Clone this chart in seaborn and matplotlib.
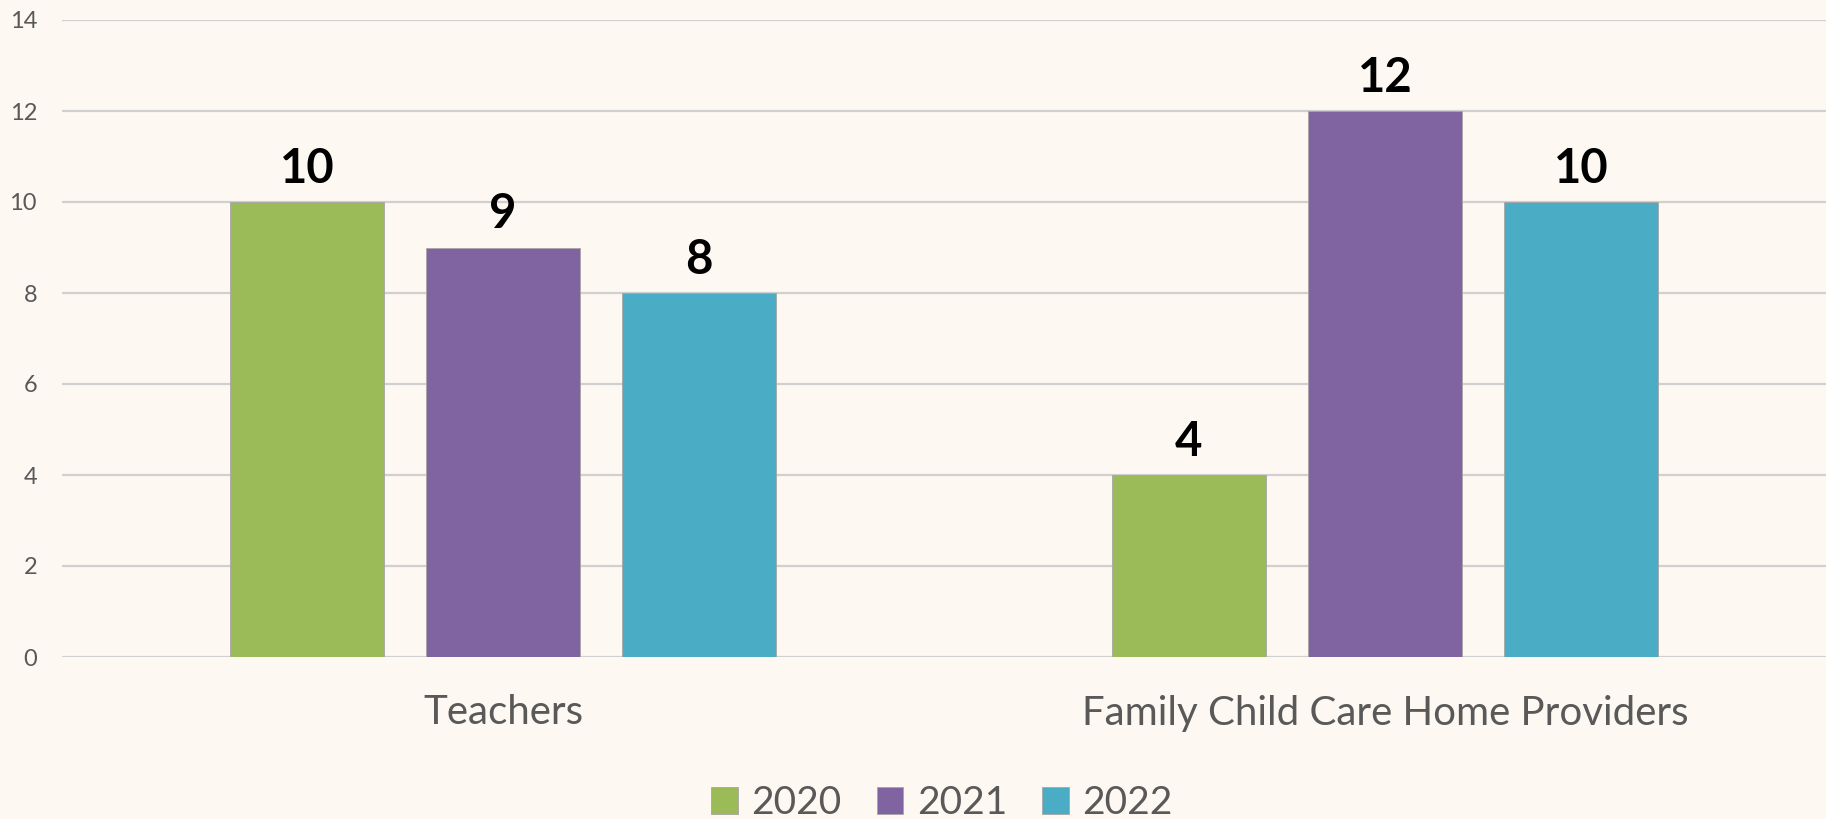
import matplotlib
matplotlib.use("Agg")
import matplotlib.pyplot as plt
import seaborn as sns
import pandas as pd

categories = ["Teachers", "Family Child Care Home Providers"]
years = ["2020", "2021", "2022"]
values_2020 = [10, 4]
values_2021 = [9, 12]
values_2022 = [8, 10]
yticks = [0, 2, 4, 6, 8, 10, 12, 14]

colors = ["#9BBB59", "#8064A2", "#4BACC6"]
bg = "#FDF8F1"
grey = "#595959"

rows = []
for yr, vals in zip(years, [values_2020, values_2021, values_2022]):
    for c, v in zip(categories, vals):
        rows.append({"category": c, "year": yr, "value": v})
df = pd.DataFrame(rows)

sns.set_theme(style="white")
plt.rcParams["font.family"] = ["Lato", "DejaVu Sans"]

fig = plt.figure(figsize=(18.26, 8.19), dpi=100, facecolor=bg)
ax = fig.add_axes([62 / 1826, 1 - 657 / 819, 1 - 62 / 1826, (657 - 20) / 819])
ax.set_facecolor(bg)

sns.barplot(data=df, x="category", y="value", hue="year", hue_order=years,
            order=categories, palette=colors, saturation=1, width=0.667,
            gap=0.214, ax=ax, zorder=3, legend=True,
            edgecolor="#A6A6A6", linewidth=0.6)

ax.set_ylim(0, 14)
ax.set_xlim(-0.5, 1.5)
ax.set_yticks(yticks)
ax.yaxis.grid(True, color="#D0D0D0", linewidth=1.6, zorder=0)
ax.set_axisbelow(True)
for s in ax.spines.values():
    s.set_visible(False)
ax.set_xlabel("")
ax.set_ylabel("")
ax.tick_params(axis="y", length=0, pad=18, labelsize=17, labelcolor=grey)
ax.tick_params(axis="x", length=0, pad=27, labelsize=29, labelcolor=grey)

for cont in ax.containers:
    ax.bar_label(cont, padding=8, fontsize=34, fontweight="bold", color="black")

handles, labels = ax.get_legend_handles_labels()
ax.legend(handles, labels, loc="lower center", bbox_to_anchor=(942 / 1826, -0.022),
          bbox_transform=fig.transFigure, ncol=3, frameon=False, fontsize=28,
          handlelength=0.68, handleheight=0.68, handletextpad=0.35,
          columnspacing=0.9, labelcolor=grey, borderaxespad=0)

fig.savefig("out.png", dpi=100, facecolor=bg)
